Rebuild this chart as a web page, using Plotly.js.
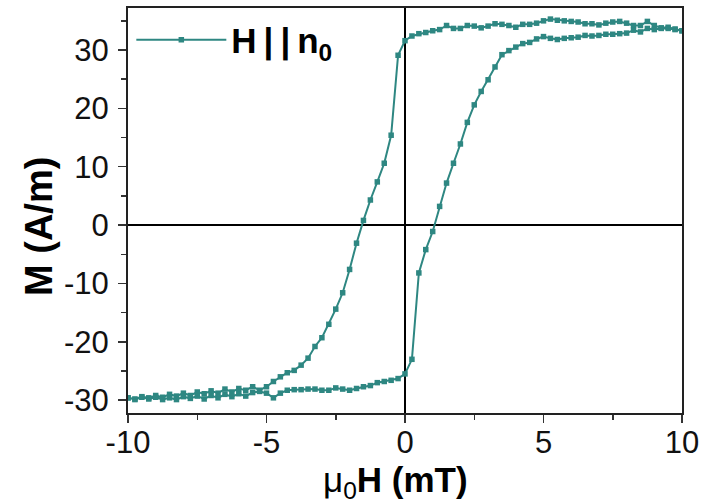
<!DOCTYPE html>
<html>
<head>
<meta charset="utf-8">
<script src="https://cdn.plot.ly/plotly-3.0.1.min.js"></script>
<style>
  html, body { margin: 0; padding: 0; background: #fff; }
  #chart { width: 717px; height: 504px; }
</style>
</head>
<body>
<div id="chart"></div>
<script>
// Descending branch: field swept from +10 mT to -10 mT
const H_down = [10, 9.75, 9.5, 9.25, 9, 8.75, 8.5, 8.25, 8, 7.75, 7.5, 7.25, 7, 6.75, 6.5, 6.25, 6, 5.75, 5.5, 5.25,
  5, 4.75, 4.5, 4.25, 4, 3.75, 3.5, 3.25, 3, 2.75, 2.5, 2.25, 2, 1.75, 1.5, 1.25, 1, 0.75, 0.5, 0.25,
  0, -0.25, -0.5, -0.75, -1, -1.25, -1.5, -1.75, -2, -2.25, -2.5, -2.75, -3, -3.25, -3.5, -3.75, -4, -4.25, -4.5, -4.75,
  -5, -5.25, -5.5, -5.75, -6, -6.25, -6.5, -6.75, -7, -7.25, -7.5, -7.75, -8, -8.25, -8.5, -8.75, -9, -9.25, -9.5, -9.75, -10];
const M_down = [33.3, 33.6, 33.9, 33.8, 34.2, 34.9, 34.2, 34.2, 34.6, 34.9, 34.8, 34.6, 34.3, 34.5, 34.5, 34.8, 34.9, 35.0, 35.1, 35.3,
  35.0, 34.6, 34.4, 34.4, 33.9, 34.2, 34.4, 34.5, 34.1, 33.8, 34.1, 34.2, 33.7, 33.7, 34.2, 33.5, 33.3, 33.0, 32.8, 32.4,
  31.6, 29.1, 15.4, 10.6, 7.4, 4.3, 0.8, -3.1, -7.6, -11.6, -14.4, -17.0, -19.3, -20.8, -22.8, -24.0, -24.9, -25.3, -26.0, -26.8,
  -27.7, -28.3, -27.7, -28.3, -28.0, -28.6, -28.1, -28.8, -28.4, -28.9, -28.6, -29.2, -28.8, -29.3, -29.0, -29.5, -29.2, -29.6, -29.4, -29.8, -29.6];

// Ascending branch: field swept from -10 mT back to +10 mT
const H_up = [-10, -9.75, -9.5, -9.25, -9, -8.75, -8.5, -8.25, -8, -7.75, -7.5, -7.25, -7, -6.75, -6.5, -6.25, -6, -5.75, -5.5, -5.25,
  -5, -4.75, -4.5, -4.25, -4, -3.75, -3.5, -3.25, -3, -2.75, -2.5, -2.25, -2, -1.75, -1.5, -1.25, -1, -0.75, -0.5, -0.25,
  0, 0.25, 0.5, 0.75, 1, 1.25, 1.5, 1.75, 2, 2.25, 2.5, 2.75, 3, 3.25, 3.5, 3.75, 4, 4.25, 4.5, 4.75,
  5, 5.25, 5.5, 5.75, 6, 6.25, 6.5, 6.75, 7, 7.25, 7.5, 7.75, 8, 8.25, 8.5, 8.75, 9, 9.25, 9.5, 9.75, 10];
const M_up = [-29.6, -29.9, -29.5, -29.8, -29.5, -29.9, -29.6, -29.9, -29.4, -29.7, -29.3, -29.8, -29.2, -29.6, -29.0, -29.4, -28.9, -29.3, -28.7, -28.5,
  -28.8, -29.6, -28.8, -28.3, -28.2, -28.2, -28.1, -28.1, -28.3, -28.3, -27.9, -28.1, -28.3, -28.0, -27.7, -27.5, -27.0, -26.8, -26.6, -26.3,
  -25.5, -23.0, -8.2, -4.2, -1.1, 3.2, 7.2, 10.6, 13.9, 17.6, 20.6, 22.9, 24.9, 27.1, 29.2, 29.9, 30.5, 31.1, 31.3, 31.9,
  32.3, 32.0, 31.8, 32.0, 32.1, 32.2, 32.5, 32.4, 32.5, 32.7, 32.7, 32.8, 32.9, 33.4, 33.1, 33.7, 33.5, 33.7, 33.7, 33.5, 33.3];

const xTicks = [-10, -5, 0, 5, 10];
const yTicks = [-30, -20, -10, 0, 10, 20, 30];
const seriesName = '<b>H\u2009|\u2009|\u2009n<sub>0</sub></b>';

const teal = '#2e8782';
const FONT = 'Liberation Sans, Arial, sans-serif';

const trace = {
  x: H_down.concat(H_up),
  y: M_down.concat(M_up),
  name: seriesName,
  type: 'scatter',
  mode: 'lines+markers',
  line: { color: teal, width: 2 },
  marker: { color: teal, symbol: 'square', size: 5.5 },
  showlegend: true
};

const layout = {
  width: 717,
  height: 504,
  margin: { l: 128, r: 35, t: 8, b: 91 },
  paper_bgcolor: '#fff',
  plot_bgcolor: '#fff',
  font: { family: FONT, color: '#111', size: 22 },
  showlegend: true,
  legend: {
    x: 0.006, y: 0.921, xanchor: 'left', yanchor: 'middle',
    bgcolor: 'rgba(0,0,0,0)',
    font: { family: FONT, size: 35, color: '#000' },
    itemwidth: 90,
    tracegroupgap: 0
  },
  xaxis: {
    range: [-10, 10],
    tickvals: xTicks,
    ticktext: xTicks.map(String),
    ticks: 'outside', ticklen: 8, tickwidth: 1.5, tickcolor: '#333',
    minor: { dtick: 2.5, ticks: 'outside', ticklen: 5, tickwidth: 1.5, tickcolor: '#333' },
    showline: true, linecolor: '#222', linewidth: 2, mirror: true,
    showgrid: false,
    zeroline: true, zerolinecolor: '#000', zerolinewidth: 2,
    tickfont: { family: FONT, size: 31, color: '#111' },
    ticklabelstandoff: -7,
    title: { text: 'μ<sub>0</sub><b>H (mT)\u00a0\u00a0</b>', font: { family: FONT, size: 35, color: '#000' }, standoff: 0 }
  },
  yaxis: {
    range: [-32.2, 37.2],
    tickvals: yTicks,
    ticktext: yTicks.map(String),
    ticks: 'outside', ticklen: 8, tickwidth: 1.5, tickcolor: '#333',
    minor: { dtick: 5, ticks: 'outside', ticklen: 5, tickwidth: 1.5, tickcolor: '#333' },
    showline: true, linecolor: '#222', linewidth: 2, mirror: true,
    showgrid: false,
    zeroline: true, zerolinecolor: '#000', zerolinewidth: 2,
    tickfont: { family: FONT, size: 31, color: '#111' },
    ticklabelstandoff: 3,
    title: { text: '<b>M (A/m)\u00a0\u00a0\u00a0</b>', font: { family: FONT, size: 38, color: '#000' }, standoff: 0 }
  }
};

Plotly.newPlot('chart', [trace], layout, { displayModeBar: false, staticPlot: true });
</script>
</body>
</html>
